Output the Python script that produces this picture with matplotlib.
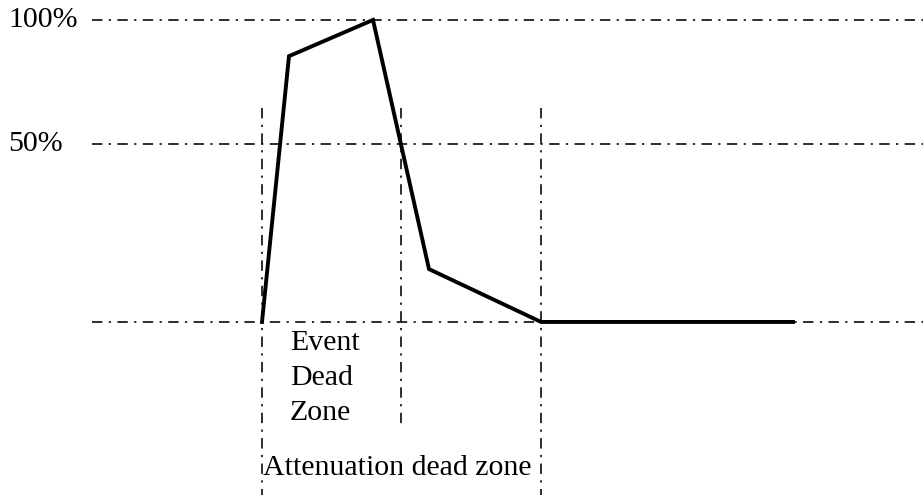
import matplotlib
matplotlib.use("Agg")
import matplotlib.pyplot as plt

# OTDR trace sketch (schematic units: x = distance, y = signal level)
trace_x = [262, 289, 373, 429, 541, 793]
trace_y = [0, 88, 100, 17.5, 0, 0]

# horizontal reference levels and their labels
level_y = [100, 59, 0]
level_labels = ["100%", "50%", ""]

# vertical markers: x, top, bottom
marker_x = [262, 401, 541]
marker_top = [71, 71, 71]
marker_bottom = [-57.3, -35, -57.3]

plt.rcParams['font.family'] = ['Liberation Serif', 'DejaVu Serif']

fig = plt.figure(figsize=(9.23, 4.95), dpi=100)
ax = fig.add_axes([0, 0, 1, 1])
ax.set_xlim(0, 923)
ax.set_ylim(-57.3, 106.6)
ax.axis('off')

dashdot = (0, (6.5, 4.0, 1.4, 4.0))

for y, lab in zip(level_y, level_labels):
    ax.plot([92, 923], [y, y], color='black', lw=1.15, linestyle=dashdot)
    if lab:
        ax.text(8, y, lab, fontsize=21.5, ha='left', va='center')

for x, top, bot in zip(marker_x, marker_top, marker_bottom):
    ax.plot([x, x], [top, bot], color='black', lw=1.15, linestyle=dashdot)

ax.plot(trace_x, trace_y, color='black', lw=2.8, solid_joinstyle='miter')

ax.text(290, -7, "Event", fontsize=21.5, ha='left', va='center')
ax.text(290, -18.5, "Dead", fontsize=21.5, ha='left', va='center')
ax.text(290, -30.3, "Zone", fontsize=21.5, ha='left', va='center')
ax.text(263, -48.2, "Attenuation dead zone", fontsize=21.5, ha='left', va='center')

fig.savefig('out.png', dpi=100)
